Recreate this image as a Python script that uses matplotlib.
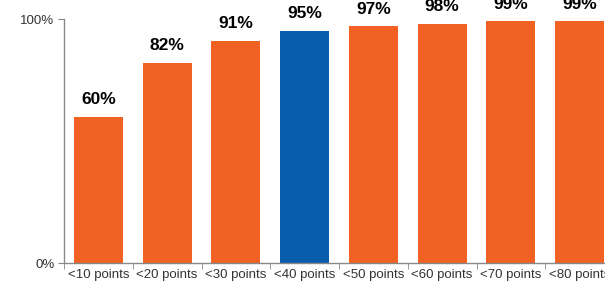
import matplotlib
matplotlib.use('Agg')
import matplotlib.pyplot as plt

categories = ['<10 points', '<20 points', '<30 points', '<40 points',
              '<50 points', '<60 points', '<70 points', '<80 points']
values = [60, 82, 91, 95, 97, 98, 99, 99]
highlight = '<40 points'

orange = '#F26124'
blue = '#0A5DAC'
colors = [blue if c == highlight else orange for c in categories]

plt.rcParams['font.family'] = ['Liberation Sans', 'DejaVu Sans']

fig = plt.figure(figsize=(6.05, 2.86), dpi=100)
ax = fig.add_axes([64 / 605, 23 / 286, 550 / 605, 244 / 286])

x = list(range(len(categories)))
bars = ax.bar(x, values, width=0.71, color=colors)

for xi, v in zip(x, values):
    ax.annotate('{}%'.format(v), (xi, v), xytext=(0, 7), textcoords='offset points',
                ha='center', va='bottom', fontsize=12.5, fontweight='bold', color='black')

ax.set_xlim(-0.5, 7.5)
ax.set_ylim(0, 100)
ax.set_yticks([0, 100])
ax.set_yticklabels(['0%', '100%'], fontsize=9.5, color='#333333')
ax.set_xticks(x)
ax.set_xticklabels(categories, fontsize=9.5, color='#333333')
ax.set_xticks([i - 0.5 for i in range(len(categories) + 1)], minor=True)
ax.tick_params(axis='x', which='major', length=0, pad=4)
ax.tick_params(axis='x', which='minor', length=4, color='#888888', direction='out')
ax.tick_params(axis='y', length=4, color='#888888', pad=3)

for s in ['top', 'right']:
    ax.spines[s].set_visible(False)
for s in ['left', 'bottom']:
    ax.spines[s].set_color('#888888')
    ax.spines[s].set_linewidth(1)

fig.savefig('out.png', dpi=100)
